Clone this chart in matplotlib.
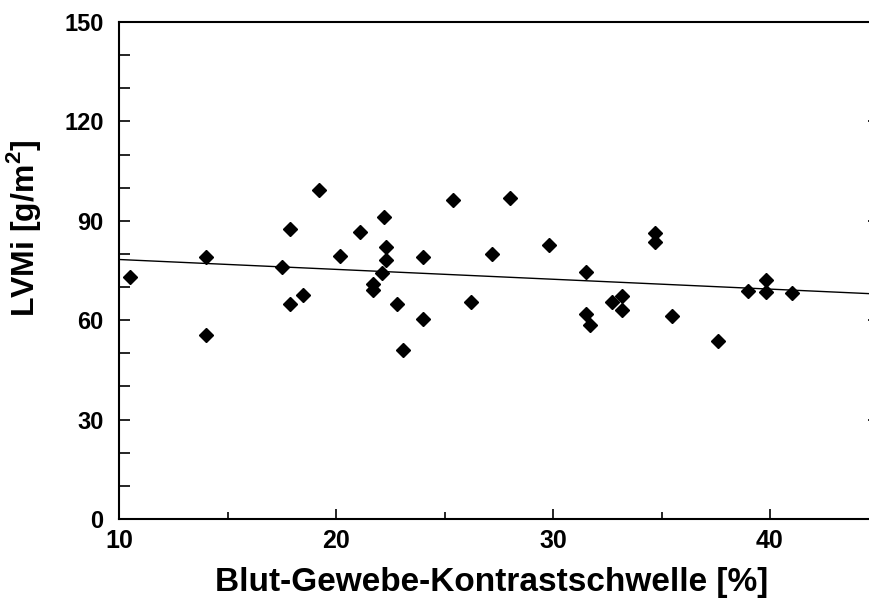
import matplotlib.pyplot as plt
import numpy as np
from matplotlib.ticker import MultipleLocator

# data
kontrast = [10.5, 14.0, 14.0, 17.5, 17.9, 17.9, 18.5, 19.2, 20.2, 21.1,
            21.7, 21.7, 22.1, 22.2, 22.3, 22.3, 22.8, 23.1, 24.0, 24.0,
            25.4, 26.2, 27.2, 28.0, 29.8, 31.5, 31.5, 31.7, 32.7, 33.2,
            33.2, 34.7, 34.7, 35.5, 37.6, 39.0, 39.8, 39.8, 41.0]
lvmi = [73.0, 79.2, 55.5, 76.2, 87.5, 64.9, 67.6, 99.3, 79.4, 86.7,
        70.8, 69.1, 74.2, 91.2, 82.0, 78.2, 64.8, 51.0, 79.2, 60.3,
        96.3, 65.6, 79.9, 96.8, 82.8, 74.5, 61.9, 58.6, 65.6, 67.3,
        63.1, 86.4, 83.7, 61.3, 53.6, 68.8, 72.1, 68.4, 68.3]

fit_intercept = 81.3
fit_slope = -0.298

plt.rcParams['font.family'] = ['Liberation Sans', 'DejaVu Sans']
plt.rcParams['font.weight'] = 'bold'
plt.rcParams['mathtext.fontset'] = 'custom'
plt.rcParams['mathtext.bf'] = 'Liberation Sans:bold'
plt.rcParams['mathtext.rm'] = 'Liberation Sans:bold'

fig = plt.figure(figsize=(8.69, 5.98), dpi=100)
ax = fig.add_axes([119 / 869, 79 / 598, 759.5 / 869, 497 / 598])

ax.plot(kontrast, lvmi, linestyle='none', marker='D', markersize=7.6,
        color='black', zorder=3)

xfit = np.array([10, 45])
ax.plot(xfit, fit_intercept + fit_slope * xfit, color='black', linewidth=1.0)

ax.set_xlim(10, 45)
ax.set_ylim(0, 150)

ax.xaxis.set_major_locator(MultipleLocator(10))
ax.xaxis.set_minor_locator(MultipleLocator(5))
ax.yaxis.set_major_locator(MultipleLocator(30))
ax.yaxis.set_minor_locator(MultipleLocator(10))

for s in ax.spines.values():
    s.set_linewidth(1.5)

ax.tick_params(axis='x', which='major', direction='in', length=7, width=1.2,
               labelsize=18, pad=7, top=False)
ax.tick_params(axis='x', which='minor', direction='in', length=5, width=1.2,
               top=False)
ax.tick_params(axis='y', which='major', direction='in', length=8, width=1.2,
               labelsize=17, pad=11, right=True)
ax.tick_params(axis='y', which='minor', direction='in', length=8, width=1.2,
               right=False)

ax.set_xlabel('Blut-Gewebe-Kontrastschwelle [%]', fontsize=24,
              fontweight='bold')
ax.xaxis.set_label_coords(0.49, -0.096)
ax.set_ylabel(r'LVMi [g/m$^{\mathbf{2}}$]', fontsize=23, fontweight='bold')
ax.yaxis.set_label_coords(-0.100, 0.585)

fig.savefig('out.png', dpi=100)
